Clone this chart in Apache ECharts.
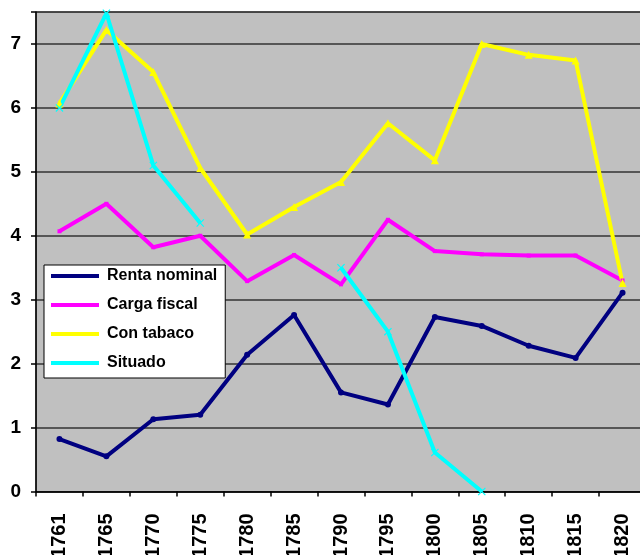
<!DOCTYPE html>
<html>
<head>
<meta charset="utf-8">
<script src="https://cdn.jsdelivr.net/npm/echarts@6/dist/echarts.min.js"></script>
<style>
  html, body { margin: 0; padding: 0; background: #fff; overflow: hidden; }
  #chart { width: 646px; height: 555px; }
</style>
</head>
<body>
<div id="chart"></div>
<script>
// years on the x axis
const years = ["1761", "1765", "1770", "1775", "1780", "1785", "1790", "1795", "1800", "1805", "1810", "1815", "1820"];

const rentaNominal = [0.82, 0.55, 1.13, 1.2, 2.14, 2.76, 1.55, 1.36, 2.73, 2.59, 2.28, 2.09, 3.11];
const cargaFiscal = [4.07, 4.5, 3.82, 4.0, 3.29, 3.7, 3.24, 4.25, 3.76, 3.71, 3.69, 3.69, 3.3];
const conTabaco = [6.07, 7.22, 6.56, 5.06, 4.02, 4.45, 4.84, 5.76, 5.18, 7.0, 6.83, 6.74, 3.26];
const situado = [6.0, 7.48, 5.1, 4.2, null, null, 3.5, 2.5, 0.61, 0.0, null, null, null];

const yTicks = [0, 1, 2, 3, 4, 5, 6, 7];

const font = "'Liberation Sans', Arial, sans-serif";
const xMark = "path://M0,1L1,0L5,4L9,0L10,1L6,5L10,9L9,10L5,6L1,10L0,9L4,5Z";

function line(name, data, color, symbol, size) {
  return {
    name: name,
    type: "line",
    data: data,
    symbol: symbol,
    symbolSize: size,
    connectNulls: false,
    lineStyle: { color: color, width: 4 },
    itemStyle: { color: color },
    emphasis: { disabled: true },
    animation: false
  };
}

const chart = echarts.init(document.getElementById("chart"), null, { renderer: "canvas" });
chart.setOption({
  animation: false,
  grid: {
    left: 36,
    right: 0,
    top: 12,
    bottom: 63.5,
    containLabel: false,
    outerBoundsMode: "none",
    show: true,
    backgroundColor: "#c0c0c0",
    borderColor: "#333",
    borderWidth: 1
  },
  legend: {
    orient: "vertical",
    left: 44,
    top: 265,
    backgroundColor: "#fff",
    borderColor: "#000",
    borderWidth: 1,
    borderRadius: 0,
    padding: [3, 8, 7, 7],
    icon: "rect",
    itemWidth: 48,
    itemHeight: 4,
    itemGap: 13,
    textStyle: { fontFamily: font, fontWeight: "bold", fontSize: 16, color: "#000", lineHeight: 16, padding: [0, 0, 0, 3] },
    data: ["Renta nominal", "Carga fiscal", "Con tabaco", "Situado"]
  },
  xAxis: {
    type: "category",
    data: years,
    boundaryGap: true,
    axisLine: { lineStyle: { color: "#000", width: 1.5 } },
    axisTick: { show: true, length: 5, lineStyle: { color: "#000", width: 1.5 } },
    axisLabel: {
      interval: 0,
      rotate: 90,
      margin: 22,
      fontFamily: font,
      fontWeight: "bold",
      fontSize: 20,
      color: "#000"
    },
    splitLine: { show: false }
  },
  yAxis: {
    type: "value",
    min: 0,
    max: 7.5,
    interval: 1,
    axisLine: { show: true, lineStyle: { color: "#000", width: 1.5 } },
    axisTick: { show: true, length: 5, lineStyle: { color: "#000", width: 1.5 } },
    axisLabel: {
      margin: 15,
      fontFamily: font,
      fontWeight: "bold",
      fontSize: 19,
      color: "#000",
      formatter: function (v) { return yTicks.indexOf(v) >= 0 ? String(v) : ""; }
    },
    splitLine: { show: true, lineStyle: { color: "#333", width: 1.5 } }
  },
  series: [
    line("Renta nominal", rentaNominal, "#000080", "circle", 6),
    line("Carga fiscal", cargaFiscal, "#ff00ff", "rect", 4),
    line("Con tabaco", conTabaco, "#ffff00", "triangle", 8),
    line("Situado", situado, "#00ffff", xMark, 8)
  ]
});
</script>
</body>
</html>
